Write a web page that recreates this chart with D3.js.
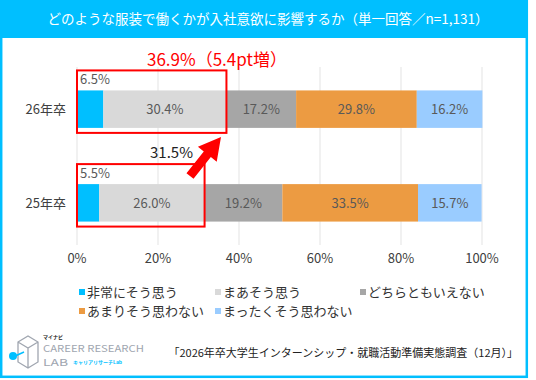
<!DOCTYPE html>
<html>
<head>
<meta charset="utf-8">
<script src="https://cdn.jsdelivr.net/npm/d3@7"></script>
<style>
  body { margin: 0; background: #fff; }
  text { font-family: "Noto Sans CJK JP", "Noto Sans", sans-serif; }
</style>
</head>
<body>
<div id="chart"></div>
<script>
// data
const categories = ['26年卒', '25年卒'];
const seriesNames = ['非常にそう思う', 'まあそう思う', 'どちらともいえない', 'あまりそう思わない', 'まったくそう思わない'];
const seriesColors = ['#00BFFF', '#D9D9D9', '#A6A6A6', '#EC9B42', '#9ACCFF'];
const values26 = [6.5, 30.4, 17.2, 29.8, 16.2];
const values25 = [5.5, 26.0, 19.2, 33.5, 15.7];
const xTicks = [0, 20, 40, 60, 80, 100];
const title = 'どのような服装で働くかが入社意欲に影響するか（単一回答／n=1,131）';
const note = '「2026年卒大学生インターンシップ・就職活動準備実態調査（12月）」';
const topLabel = '36.9%（5.4pt増）';
const lowLabel = '31.5%';

const W = 536, H = 380;
const svg = d3.select('#chart').append('svg').attr('width', W).attr('height', H);

// frame
svg.append('rect').attr('x', 1.2).attr('y', 1.2).attr('width', 525.6).attr('height', 375.6)
  .attr('fill', '#fff').attr('stroke', '#00BFFF').attr('stroke-width', 2.5);
svg.append('rect').attr('x', 0).attr('y', 0).attr('width', 528).attr('height', 38).attr('fill', '#00BFFF');
svg.append('text').attr('x', 268).attr('y', 24).attr('text-anchor', 'middle')
  .attr('fill', '#fff').attr('font-size', 13.5).text(title);

const x = d3.scaleLinear().domain([0, 100]).range([77, 482]);
const y = d3.scaleBand().domain(categories).range([67, 245]).paddingInner(0.6).paddingOuter(0.25);

// gridlines
svg.append('g').selectAll('line').data(xTicks).join('line')
  .attr('x1', d => x(d)).attr('x2', d => x(d)).attr('y1', 67).attr('y2', 245)
  .attr('stroke', '#E3E3E3').attr('stroke-width', 1);

// axis labels
svg.append('g').selectAll('text').data(xTicks).join('text')
  .attr('x', d => x(d)).attr('y', 263).attr('text-anchor', 'middle')
  .attr('font-size', 13).attr('fill', '#404040').text(d => d + '%');

// category labels
svg.append('g').selectAll('text').data(categories).join('text')
  .attr('x', 66).attr('y', c => y(c) + y.bandwidth() / 2 + 5).attr('text-anchor', 'end')
  .attr('font-size', 13).attr('fill', '#404040').text(c => c);

// stacked bars
const rows = categories.map((c, i) => {
  const v = i === 0 ? values26 : values25;
  const o = { cat: c };
  seriesNames.forEach((s, j) => { o[s] = v[j]; });
  return o;
});
const stack = d3.stack().keys(seriesNames)(rows);

stack.forEach((layer, j) => {
  const g = svg.append('g');
  g.selectAll('rect').data(layer).join('rect')
    .attr('x', d => x(d[0])).attr('width', d => x(d[1]) - x(d[0]))
    .attr('y', d => y(d.data.cat)).attr('height', y.bandwidth())
    .attr('fill', seriesColors[j]);
  g.selectAll('text').data(layer).join('text')
    .attr('x', d => j === 0 ? x(d[0]) + 3 : (x(d[0]) + x(d[1])) / 2)
    .attr('y', d => j === 0 ? y(d.data.cat) - 6 : y(d.data.cat) + y.bandwidth() / 2 + 5)
    .attr('text-anchor', j === 0 ? 'start' : 'middle')
    .attr('font-size', 13).attr('fill', '#595959')
    .text(d => (d[1] - d[0]).toFixed(1) + '%');
});

// red highlight boxes (top two categories)
const sumTop = v => v[0] + v[1];
const boxes = [
  { cat: '26年卒', v: sumTop(values26) },
  { cat: '25年卒', v: sumTop(values25) }
];
svg.append('g').selectAll('rect').data(boxes).join('rect')
  .attr('x', x(0)).attr('width', d => x(d.v) - x(0))
  .attr('y', d => y(d.cat) - 20).attr('height', d => y.bandwidth() + 25)
  .attr('fill', 'none').attr('stroke', '#FF0000').attr('stroke-width', 2);

svg.append('text').attr('x', 147).attr('y', 66).attr('font-size', 17)
  .attr('fill', '#FF0000').text(topLabel);
svg.append('text').attr('x', 150).attr('y', 158).attr('font-size', 15)
  .attr('fill', '#222').text(lowLabel);

// arrow
const tip = [221, 137], tail = [190, 176];
const ang = Math.atan2(tip[1] - tail[1], tip[0] - tail[0]);
const headLen = 22, headW = 12, shaftW = 4.5;
const ux = Math.cos(ang), uy = Math.sin(ang), px = -uy, py = ux;
const base = [tip[0] - ux * headLen, tip[1] - uy * headLen];
const pts = [
  [tail[0] + px * shaftW, tail[1] + py * shaftW],
  [base[0] + px * shaftW, base[1] + py * shaftW],
  [base[0] + px * headW, base[1] + py * headW],
  tip,
  [base[0] - px * headW, base[1] - py * headW],
  [base[0] - px * shaftW, base[1] - py * shaftW],
  [tail[0] - px * shaftW, tail[1] - py * shaftW]
];
svg.append('polygon').attr('points', pts.map(p => p.join(',')).join(' ')).attr('fill', '#FF0000');

// legend
const legendPos = [[79, 292], [215, 292], [360, 292], [79, 311], [215, 311]];
const lg = svg.append('g').selectAll('g').data(seriesNames).join('g')
  .attr('transform', (d, i) => `translate(${legendPos[i][0]},${legendPos[i][1]})`);
lg.append('rect').attr('x', 0).attr('y', -3).attr('width', 6).attr('height', 6)
  .attr('fill', (d, i) => seriesColors[i]);
lg.append('text').attr('x', 8).attr('y', 5).attr('font-size', 13).attr('fill', '#333').text(d => d);

// footer note
svg.append('text').attr('x', 518).attr('y', 357).attr('text-anchor', 'end')
  .attr('font-size', 11).attr('fill', '#222').text(note);

// logo
const logo = svg.append('g');
logo.append('path').attr('d', 'M18,342 L28,336 L38,342 L38,362 L28,368 L18,362 Z M18,342 L28,348 L38,342 M28,348 L28,368')
  .attr('fill', 'none').attr('stroke', '#A0A6B0').attr('stroke-width', 1.3);
logo.append('line').attr('x1', 13).attr('y1', 357).attr('x2', 24).attr('y2', 352)
  .attr('stroke', '#00BFFF').attr('stroke-width', 1.5);
logo.append('circle').attr('cx', 13).attr('cy', 356).attr('r', 4).attr('fill', '#00BFFF');
logo.append('text').attr('x', 43).attr('y', 339).attr('font-size', 5).attr('font-weight', 'bold').attr('fill', '#222').text('マイナビ');
logo.append('text').attr('x', 43).attr('y', 352).attr('font-size', 9.5).attr('fill', '#A0A6B0')
  .attr('textLength', 101).attr('lengthAdjust', 'spacingAndGlyphs').text('CAREER RESEARCH');
logo.append('text').attr('x', 43).attr('y', 366).attr('font-size', 9.5).attr('fill', '#A0A6B0')
  .attr('textLength', 25).attr('lengthAdjust', 'spacingAndGlyphs').text('LAB');
logo.append('text').attr('x', 73).attr('y', 364).attr('font-size', 5).attr('fill', '#00BFFF').attr('font-weight', 'bold').text('キャリアリサーチLab');
</script>
</body>
</html>
